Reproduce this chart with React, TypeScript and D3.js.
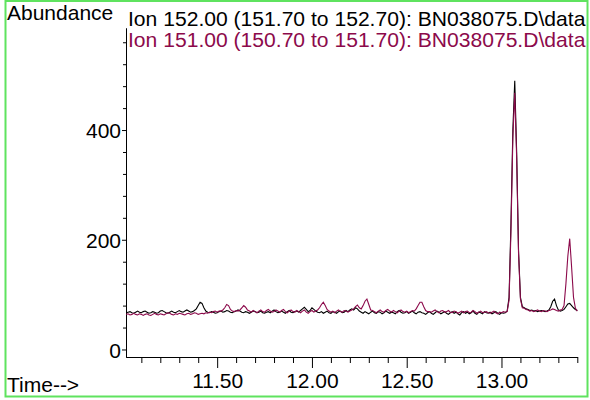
import React, { useEffect, useRef } from "react";
import * as d3 from "d3";

// scans every 0.01 min, first scan at 11.02 min
const startTime = 11.02;
const scanStep = 0.01;

// Ion 152.00 (black)
const ion152: number[] = [
  67, 68, 69, 67, 66, 68, 70, 68, 67, 69, // 11.02
  70, 68, 66, 67, 69, 68, 66, 67, 70, 71, // 11.12
  69, 67, 66, 68, 70, 68, 67, 69, 71, 69, // 11.22
  68, 70, 72, 70, 68, 69, 71, 74, 80, 86, // 11.32
  84, 76, 70, 68, 67, 69, 68, 66, 67, 69, // 11.42
  70, 68, 69, 71, 70, 68, 67, 69, 70, 72, // 11.52
  70, 68, 67, 69, 68, 66, 68, 70, 69, 67, // 11.62
  68, 70, 67, 66, 68, 69, 67, 70, 72, 69, // 11.72
  67, 68, 70, 68, 66, 69, 71, 68, 67, 69, // 11.82
  70, 68, 71, 74, 77, 73, 69, 71, 76, 73, // 11.92
  70, 68, 67, 69, 66, 68, 70, 67, 66, 69, // 12.02
  68, 66, 69, 70, 67, 68, 71, 69, 72, 74, // 12.12
  72, 76, 74, 70, 68, 66, 69, 67, 65, 68, // 12.22
  70, 67, 66, 69, 68, 65, 67, 70, 68, 66, // 12.32
  68, 67, 65, 69, 71, 68, 66, 67, 69, 66, // 12.42
  68, 70, 67, 65, 68, 69, 67, 66, 64, 67, // 12.52
  69, 66, 64, 67, 70, 68, 65, 67, 69, 66, // 12.62
  64, 67, 69, 66, 68, 65, 63, 67, 69, 66, // 12.72
  68, 65, 67, 70, 66, 64, 68, 67, 65, 69, // 12.82
  67, 66, 68, 65, 67, 69, 66, 64, 67, 66, // 12.92
  67, 70, 95, 230, 400, 490, 360, 180, 95, 78, // 13.02
  76, 74, 73, 71, 72, 70, 71, 69, 70, 71, // 13.12
  70, 69, 70, 72, 78, 88, 92, 80, 72, 70, // 13.22
  71, 73, 78, 83, 84, 80, 76, 73, 71, // 13.32
];

// Ion 151.00 (maroon)
const ion151: number[] = [
  64, 65, 63, 64, 66, 64, 63, 65, 64, 62, // 11.02
  64, 65, 63, 62, 64, 66, 64, 63, 65, 64, // 11.12
  63, 65, 67, 66, 64, 63, 65, 64, 66, 65, // 11.22
  64, 63, 65, 66, 64, 65, 67, 66, 64, 65, // 11.32
  66, 65, 67, 66, 68, 67, 69, 70, 68, 70, // 11.42
  70, 72, 76, 82, 80, 73, 70, 69, 71, 70, // 11.52
  72, 76, 80, 77, 72, 70, 68, 71, 69, 67, // 11.62
  70, 72, 69, 68, 71, 73, 70, 68, 69, 72, // 11.72
  70, 68, 71, 73, 69, 67, 70, 72, 69, 68, // 11.82
  71, 69, 67, 70, 72, 68, 66, 69, 71, 68, // 11.92
  70, 72, 76, 82, 86, 80, 73, 70, 68, 70, // 12.02
  67, 70, 72, 69, 68, 71, 70, 68, 70, 72, // 12.12
  74, 78, 81, 76, 74, 80, 88, 92, 82, 72, // 12.22
  71, 69, 67, 70, 72, 69, 68, 71, 73, 70, // 12.32
  68, 71, 69, 67, 70, 72, 69, 68, 70, 67, // 12.42
  69, 71, 70, 74, 80, 86, 86, 78, 71, 69, // 12.52
  69, 68, 70, 72, 69, 67, 70, 71, 68, 69, // 12.62
  71, 68, 67, 70, 69, 66, 68, 70, 67, 69, // 12.72
  70, 67, 68, 71, 69, 66, 68, 70, 67, 68, // 12.82
  69, 67, 66, 68, 70, 67, 65, 68, 67, 69, // 12.92
  68, 69, 90, 215, 385, 468, 350, 175, 92, 76, // 13.02
  75, 73, 72, 70, 71, 69, 70, 72, 70, 69, // 13.12
  71, 70, 69, 71, 72, 74, 73, 71, 70, 72, // 13.22
  73, 80, 120, 170, 202, 150, 95, 75, 70, // 13.32
];

const xMajor = [11.5, 12.0, 12.5, 13.0];
const xMinor = [11.1, 11.2, 11.3, 11.4, 11.6, 11.7, 11.8, 11.9, 12.1, 12.2, 12.3, 12.4, 12.6, 12.7, 12.8, 12.9, 13.1, 13.2, 13.3, 13.4];
const yMajor = [0, 200, 400];
const yMinor = [40, 80, 120, 160, 240, 280, 320, 360, 440, 480, 520, 560];

const title152 = "Ion 152.00 (151.70 to 152.70): BN038075.D\\data";
const title151 = "Ion 151.00 (150.70 to 151.70): BN038075.D\\data";

const W = 590;
const H = 400;
const FONT = "'Liberation Sans', Arial, sans-serif";
const MAROON = "#8c0a4b";

export default function App() {
  const ref = useRef<SVGSVGElement>(null);

  useEffect(() => {
    const svg = d3.select(ref.current);
    svg.selectAll("*").remove();

    const x = d3.scaleLinear().domain([11.019, 13.4]).range([126, 577.3]);
    const y = d3.scaleLinear().domain([-13.7, 586]).range([357, 28]);

    svg
      .append("rect")
      .attr("x", 5.5)
      .attr("y", 1)
      .attr("width", 582)
      .attr("height", 395.5)
      .attr("fill", "none")
      .attr("stroke", "#5fe35f")
      .attr("stroke-width", 2);

    // axes
    const xg = svg.append("g").attr("transform", "translate(0,357)");
    xg.call(d3.axisBottom(x).tickValues(xMinor).tickSize(6).tickSizeOuter(0).tickFormat(() => ""));
    xg.append("g").call(
      d3.axisBottom(x).tickValues(xMajor).tickSize(11).tickSizeOuter(0).tickFormat(d3.format(".2f") as any)
    );
    xg.selectAll(".domain").attr("stroke", "#000");
    xg.selectAll("text")
      .attr("y", 31.3)
      .attr("dy", null)
      .attr("fill", "#000")
      .attr("font-size", 21)
      .attr("font-family", FONT);

    const yg = svg.append("g").attr("transform", "translate(126,0)");
    yg.call(d3.axisLeft(y).tickValues(yMinor).tickSize(3).tickSizeOuter(0).tickFormat(() => ""));
    yg.append("g").call(d3.axisLeft(y).tickValues(yMajor).tickSize(4).tickPadding(1).tickSizeOuter(0));
    yg.selectAll("text")
      .attr("dy", "0.36em")
      .attr("fill", "#000")
      .attr("font-size", 21)
      .attr("font-family", FONT);
    svg.selectAll(".tick line").attr("stroke", "#000");

    // traces
    const line = d3
      .line<number>()
      .x((_, i) => x(startTime + i * scanStep))
      .y((d) => y(d));

    svg
      .append("path")
      .datum(ion152)
      .attr("d", line)
      .attr("fill", "none")
      .attr("stroke", "#000")
      .attr("stroke-width", 1.1);

    svg
      .append("path")
      .datum(ion151)
      .attr("d", line)
      .attr("fill", "none")
      .attr("stroke", MAROON)
      .attr("stroke-width", 1.1);

    // labels
    const txt = svg.append("g").attr("font-family", FONT).attr("font-size", 21);
    txt.append("text").attr("x", 7).attr("y", 19.5).text("Abundance");
    txt.append("text").attr("x", 128).attr("y", 26).attr("font-size", 21.1).text(title152);
    txt.append("text").attr("x", 128).attr("y", 47).attr("font-size", 21.1).attr("fill", MAROON).text(title151);
    txt.append("text").attr("x", 7).attr("y", 391.5).text("Time-->");
  }, []);

  return (
    <svg
      ref={ref}
      width={W}
      height={H}
      style={{ position: "absolute", left: 0, top: 0, background: "#fff" }}
    />
  );
}
